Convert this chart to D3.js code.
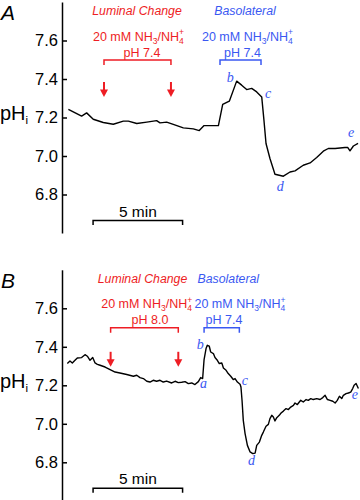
<!DOCTYPE html>
<html><head><meta charset="utf-8">
<script src="https://cdn.jsdelivr.net/npm/d3@7"></script>
<style>body{margin:0;background:#fff}svg{display:block}</style>
</head><body><svg id="c" width="360" height="500"></svg>
<script>
// ---- data ----
const yTicks = [6.8, 7.0, 7.2, 7.4, 7.6];
const timeA = [0.30,1.04,1.32,1.69,2.25,2.81,3.37,3.65,4.12,4.68,5.23,5.42,5.79,6.16,6.72,7.28,7.61,7.88,8.68,8.92,9.29,9.70,9.98,10.26,10.54,10.82,11.10,11.22,11.34,11.56,11.84,12.31,12.68,12.96,13.42,13.80,14.17,14.54,14.82,15.20,15.75,15.90,16.03,16.22,16.48];
const phA   = [7.242,7.207,7.224,7.191,7.174,7.165,7.181,7.181,7.169,7.176,7.184,7.172,7.176,7.164,7.146,7.141,7.132,7.158,7.158,7.268,7.285,7.389,7.368,7.345,7.351,7.333,7.307,7.190,7.065,6.987,6.905,6.895,6.917,6.923,6.952,6.964,6.992,7.025,7.039,7.039,7.044,7.045,7.027,7.052,7.066];
const timeB = [0.24,0.39,0.52,0.67,0.80,1.04,1.23,1.36,1.51,1.66,1.79,1.92,2.07,2.35,2.63,2.91,3.18,3.56,3.93,4.12,4.30,4.49,4.68,4.86,5.04,5.23,5.42,5.60,5.79,6.07,6.26,6.44,6.63,6.82,7.00,7.19,7.37,7.56,7.69,7.80,7.88,7.99,8.06,8.17,8.25,8.40,8.49,8.62,8.73,8.87,8.96,9.11,9.23,9.37,9.51,9.61,9.74,9.89,9.94,10.00,10.07,10.17,10.30,10.45,10.60,10.73,10.82,10.97,11.10,11.19,11.34,11.47,11.56,11.66,11.75,11.84,11.94,12.08,12.18,12.31,12.46,12.59,12.72,12.87,12.96,13.09,13.20,13.28,13.42,13.58,13.70,13.84,13.98,14.17,14.36,14.51,14.64,14.77,14.92,15.07,15.20,15.32,15.44,15.57,15.66,15.81,15.94,16.07,16.18,16.26,16.37,16.50];
const phB   = [7.313,7.326,7.316,7.330,7.342,7.344,7.359,7.351,7.330,7.344,7.316,7.309,7.304,7.295,7.282,7.269,7.264,7.256,7.247,7.252,7.240,7.235,7.221,7.217,7.226,7.221,7.226,7.217,7.222,7.212,7.221,7.214,7.216,7.219,7.209,7.212,7.204,7.219,7.240,7.235,7.334,7.391,7.408,7.403,7.373,7.365,7.344,7.330,7.313,7.316,7.290,7.278,7.261,7.247,7.230,7.235,7.217,7.205,7.191,7.122,7.018,6.949,6.888,6.854,6.845,6.848,6.888,6.905,6.940,6.957,6.987,6.997,7.027,7.044,7.035,7.015,7.032,7.044,7.056,7.066,7.079,7.074,7.087,7.096,7.108,7.100,7.113,7.122,7.113,7.126,7.122,7.131,7.126,7.131,7.126,7.136,7.148,7.126,7.122,7.117,7.108,7.122,7.143,7.131,7.148,7.157,7.160,7.165,7.183,7.200,7.209,7.183];
const luminalTimesA = [2.29, 6.03];
const basoTimesA = [8.77, 11.06];
const luminalTimesB = [2.66, 6.44];
const basoTimesB = [7.88, 9.85];
const labelsA = [["b",9.15,7.383],["c",11.28,7.300],["d",11.94,6.817],["e",15.92,7.098]];
const labelsB = [["a",7.65,7.184],["b",7.47,7.387],["c",9.98,7.200],["d",10.34,6.784],["e",16.13,7.127]];
const scaleBarMin = [1.68, 6.68];

// ---- drawing ----
const svg = d3.select("#c");
const RED = "#ee1d24", BLUE = "#3a58f2";
const SANS = "'Liberation Sans', Arial, sans-serif";
const SERIF = "'Liberation Serif', 'Times New Roman', serif";
const x = d3.scaleLinear().domain([0, 16.5]).range([63, 358.4]);

function nhText(g, cx, y, color) {
  const t = g.append("text").attr("x", cx).attr("y", y).attr("text-anchor", "middle")
    .attr("font-family", SANS).attr("font-size", 12.5).attr("fill", color);
  t.append("tspan").text("20 mM NH");
  t.append("tspan").attr("dy", 3).attr("font-size", 8.5).text("3");
  t.append("tspan").attr("dy", -3).text("/NH");
  t.append("tspan").attr("dy", 3).attr("font-size", 8.5).text("4");
  t.append("tspan").attr("dx", -4.7).attr("dy", -8.5).attr("font-size", 8.5).text("+");
}
function plainText(g, txt, cx, y, color, italic) {
  g.append("text").attr("x", cx).attr("y", y).attr("text-anchor", "middle")
    .attr("font-family", SANS).attr("font-size", italic ? 12.3 : 12.5)
    .attr("font-style", italic ? "italic" : "normal").attr("fill", color).text(txt);
}
function bracket(g, t0, t1, color) {
  g.append("path").attr("d", `M${x(t0)},65V60H${x(t1)}V65`)
    .attr("fill", "none").attr("stroke", color).attr("stroke-width", 1.5);
}

function panel(cfg) {
  const g = svg.append("g").attr("transform", `translate(0,${cfg.dy})`);
  const y = d3.scaleLinear().domain([6.6, 7.8]).range([233, 2]);

  g.append("text").attr("x", 1).attr("y", 20).attr("font-family", SANS).attr("font-size", 21)
    .attr("font-style", "italic").text(cfg.letter);

  const ax = g.append("g").attr("transform", "translate(62,0)")
    .call(d3.axisLeft(y).tickValues(yTicks).tickFormat(d3.format(".1f"))
      .tickSizeInner(-5).tickSizeOuter(0).tickPadding(4));
  ax.select(".domain").attr("stroke", "#000").attr("stroke-width", 1.5);
  ax.selectAll(".tick line").attr("stroke", "#000").attr("stroke-width", 1.5);
  ax.selectAll(".tick text").attr("font-size", 16.5).attr("font-family", SANS).attr("fill", "#000");

  const lab = g.append("text").attr("x", 0).attr("y", 120).attr("font-family", SANS)
    .attr("font-size", 20).attr("fill", "#000");
  lab.append("tspan").text("pH");
  lab.append("tspan").attr("dy", 4).attr("font-size", 11.5).text("i");

  g.append("path").datum(d3.zip(cfg.time, cfg.ph))
    .attr("d", d3.line().x(d => x(d[0])).y(d => y(d[1])))
    .attr("fill", "none").attr("stroke", "#000").attr("stroke-width", 1.4)
    .attr("stroke-linejoin", "round");

  // scale bar
  g.append("path").attr("d", `M${x(scaleBarMin[0])},225V220.5H${x(scaleBarMin[1])}V225`)
    .attr("fill", "none").attr("stroke", "#000").attr("stroke-width", 1.5);
  g.append("text").attr("x", (x(scaleBarMin[0]) + x(scaleBarMin[1])) / 2).attr("y", 216.5)
    .attr("text-anchor", "middle").attr("font-family", SANS).attr("font-size", 15.5).text("5 min");

  // luminal annotations
  const c = cfg.text;
  plainText(g, "Luminal Change", c.lum[0], 15, RED, true);
  nhText(g, c.lum[1], 40.5, RED);
  plainText(g, cfg.lumPH, c.lum[2], 56.5, RED, false);
  bracket(g, cfg.lumT[0], cfg.lumT[1], RED);
  cfg.lumT.forEach(t => {
    const xx = x(t);
    g.append("line").attr("x1", xx).attr("x2", xx).attr("y1", cfg.arrowTop).attr("y2", cfg.arrowTop + 9)
      .attr("stroke", RED).attr("stroke-width", 2);
    g.append("path").attr("d", `M${xx - 4},${cfg.arrowTop + 7.5}L${xx + 4},${cfg.arrowTop + 7.5}L${xx},${cfg.arrowTop + 15}Z`)
      .attr("fill", RED);
  });

  // basolateral annotations
  plainText(g, "Basolateral", c.bas[0], 15, BLUE, true);
  nhText(g, c.bas[1], 40.5, BLUE);
  plainText(g, "pH 7.4", c.bas[2], 56.5, BLUE, false);
  bracket(g, cfg.basT[0], cfg.basT[1], BLUE);

  g.selectAll("text.pt").data(cfg.labels).join("text").attr("class", "pt")
    .attr("x", d => x(d[1])).attr("y", d => y(d[2]))
    .attr("font-family", SERIF).attr("font-style", "italic").attr("font-size", 14)
    .attr("fill", BLUE).text(d => d[0]);
}

panel({dy: 0, letter: "A", time: timeA, ph: phA, lumT: luminalTimesA, basT: basoTimesA,
  lumPH: "pH 7.4", labels: labelsA, arrowTop: 82,
  text: {lum: [137, 138.5, 142], bas: [245, 247.5, 242.5]}});
panel({dy: 267.8, letter: "B", time: timeB, ph: phB, lumT: luminalTimesB, basT: basoTimesB,
  lumPH: "pH 8.0", labels: labelsB, arrowTop: 84,
  text: {lum: [142.5, 146.7, 150], bas: [228.3, 240, 224]}});
</script></body></html>
